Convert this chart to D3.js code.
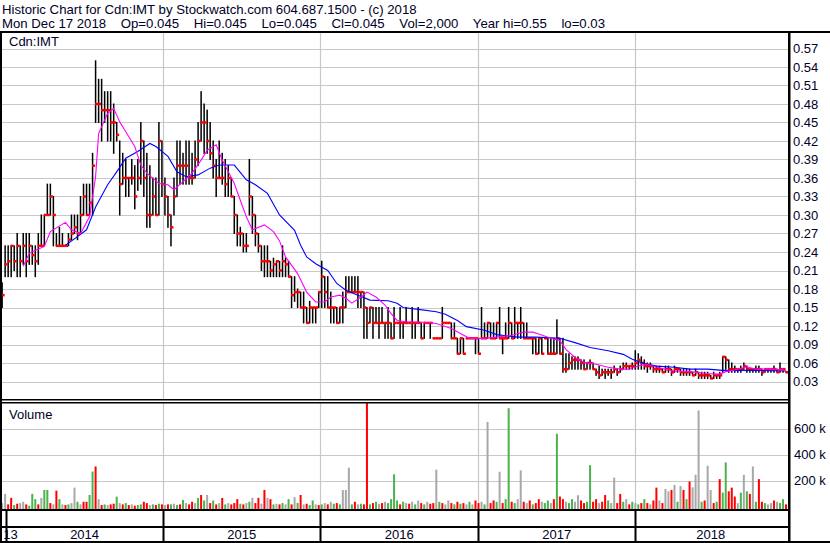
<!DOCTYPE html>
<html>
<head>
<meta charset="utf-8">
<script src="https://cdn.jsdelivr.net/npm/d3@7"></script>
<style>
body { margin: 0; background: #fff; }
svg { display: block; font-family: "Liberation Sans", Arial, sans-serif; }
</style>
</head>
<body>
<svg id="chart" width="830" height="543"></svg>
<script>
var title1 = "Historic Chart for Cdn:IMT by Stockwatch.com 604.687.1500 - (c) 2018";
var title2 = "Mon Dec 17 2018    Op=0.045    Hi=0.045    Lo=0.045    Cl=0.045    Vol=2,000    Year hi=0.55    lo=0.03";
var symbol = "Cdn:IMT";

var chartStart = new Date(2013, 11, 16);   // left edge of the data
var firstWeek = new Date(2013, 11, 23);    // first weekly bar
var years = [2013, 2014, 2015, 2016, 2017, 2018];
var priceTicks = [0.03, 0.06, 0.09, 0.12, 0.15, 0.18, 0.21, 0.24, 0.27, 0.30, 0.33, 0.36, 0.39, 0.42, 0.45, 0.48, 0.51, 0.54, 0.57];
var volTicks = [200, 400, 600];            // thousands
var volTickLabels = ["200 k", "400 k", "600 k"];

// weekly high / low / close
var highs = [
  .19,.25,.25,.25,.25,.27,.25,.27,.27,.27,
  .25,.25,.27,.30,.30,.35,.35,.33,.27,.28,
  .27,.25,.27,.30,.30,.30,.33,.35,.35,.35,
  .40,.55,.52,.52,.50,.50,.50,.48,.45,.42,
  .40,.39,.36,.39,.38,.39,.45,.42,.40,.38,
  .36,.36,.45,.42,.36,.33,.30,.36,.42,.42,
  .40,.42,.42,.40,.42,.45,.50,.48,.47,.45,
  .42,.39,.42,.40,.39,.38,.36,.33,.30,.28,
  .27,.27,.39,.33,.30,.27,.25,.25,.25,.225,
  .23,.225,.225,.25,.23,.225,.20,.20,.18,.175,
  .175,.15,.16,.15,.15,.175,.225,.20,.20,.175,
  .15,.15,.15,.175,.20,.20,.20,.20,.20,.175,
  .175,.15,.15,.15,.15,.15,.15,.125,.15,.125,
  .15,.125,.15,.125,.15,.125,.15,.125,.15,.125,
  .125,.125,.125,.10,.10,.10,.15,.125,.125,.125,
  .125,.10,.10,.10,.10,.10,.10,.10,.10,.15,
  .125,.125,.125,.125,.125,.15,.10,.125,.15,.125,
  .15,.125,.15,.125,.125,.10,.10,.10,.10,.10,
  .10,.10,.10,.10,.13,.10,.10,.075,.075,.07,
  .07,.07,.065,.065,.06,.065,.06,.05,.055,.05,
  .05,.05,.05,.055,.05,.055,.06,.06,.055,.06,
  .08,.075,.07,.065,.06,.06,.055,.055,.055,.05,
  .055,.055,.05,.055,.05,.05,.05,.05,.05,.045,
  .05,.045,.045,.045,.045,.04,.045,.04,.045,.07,
  .07,.065,.06,.055,.05,.055,.06,.055,.05,.05,
  .055,.055,.05,.05,.05,.05,.055,.05,.06,.05,
  .045
];
var lows = [
  .15,.20,.20,.20,.21,.20,.20,.22,.20,.22,
  .22,.20,.22,.25,.25,.30,.30,.25,.25,.25,
  .25,.25,.25,.26,.27,.26,.27,.30,.30,.30,
  .30,.45,.45,.42,.45,.42,.42,.40,.42,.30,
  .35,.33,.33,.35,.31,.34,.35,.33,.28,.28,
  .30,.30,.30,.33,.30,.28,.25,.30,.33,.35,
  .35,.35,.35,.35,.36,.38,.42,.40,.40,.39,
  .36,.33,.36,.35,.33,.33,.33,.27,.25,.25,
  .24,.24,.30,.27,.25,.24,.21,.20,.20,.20,
  .20,.20,.20,.20,.20,.20,.15,.16,.15,.15,
  .125,.125,.125,.125,.125,.15,.15,.15,.15,.125,
  .125,.125,.125,.125,.15,.175,.175,.175,.15,.15,
  .10,.10,.125,.10,.125,.10,.125,.10,.10,.10,
  .10,.125,.10,.10,.125,.125,.10,.10,.125,.10,
  .10,.125,.10,.10,.10,.10,.10,.125,.125,.10,
  .10,.075,.075,.075,.10,.10,.10,.075,.075,.10,
  .10,.10,.10,.10,.10,.10,.075,.10,.10,.10,
  .10,.10,.10,.10,.10,.10,.075,.075,.075,.075,
  .10,.075,.075,.075,.075,.075,.045,.045,.05,.05,
  .05,.05,.05,.05,.05,.05,.05,.04,.035,.04,
  .035,.04,.035,.045,.04,.045,.05,.05,.05,.05,
  .05,.05,.05,.05,.045,.05,.045,.045,.045,.045,
  .045,.045,.04,.045,.045,.04,.04,.04,.04,.04,
  .04,.035,.035,.035,.035,.035,.035,.035,.035,.045,
  .05,.045,.045,.045,.045,.045,.05,.045,.045,.045,
  .045,.045,.04,.045,.045,.045,.045,.045,.045,.045,
  .045
];
var closes = [
  .17,.22,.225,.25,.225,.25,.225,.25,.225,.25,
  .235,.225,.25,.25,.30,.30,.33,.30,.25,.25,
  .25,.25,.26,.27,.28,.27,.30,.33,.30,.32,
  .38,.48,.48,.47,.47,.47,.45,.45,.43,.35,
  .36,.36,.36,.36,.33,.36,.42,.36,.30,.30,
  .33,.30,.42,.35,.33,.30,.28,.33,.38,.38,
  .38,.38,.36,.36,.39,.42,.45,.45,.42,.40,
  .38,.36,.36,.36,.35,.36,.33,.30,.27,.27,
  .25,.25,.33,.30,.27,.25,.225,.225,.225,.21,
  .22,.225,.21,.225,.22,.20,.17,.175,.175,.15,
  .15,.125,.15,.15,.15,.175,.20,.175,.15,.15,
  .15,.125,.15,.15,.175,.175,.175,.175,.175,.175,
  .15,.125,.15,.125,.125,.125,.125,.125,.125,.10,
  .125,.125,.125,.125,.125,.125,.125,.125,.125,.10,
  .125,.125,.125,.10,.10,.10,.125,.125,.125,.10,
  .10,.075,.10,.075,.10,.10,.10,.10,.075,.10,
  .10,.125,.10,.10,.125,.10,.10,.10,.125,.10,
  .125,.125,.125,.10,.10,.10,.10,.075,.10,.075,
  .10,.075,.075,.075,.10,.075,.05,.05,.06,.065,
  .065,.065,.06,.05,.06,.06,.05,.045,.04,.045,
  .045,.045,.045,.05,.045,.05,.055,.055,.055,.055,
  .06,.065,.06,.055,.055,.055,.05,.05,.05,.045,
  .05,.05,.045,.05,.05,.045,.045,.045,.045,.04,
  .045,.04,.04,.04,.04,.035,.04,.04,.04,.07,
  .065,.05,.05,.05,.05,.05,.055,.05,.05,.05,
  .05,.05,.045,.05,.05,.05,.05,.045,.05,.05,
  .045
];

// weekly volume in thousands, and direction (u = up, d = down, n = unchanged)
var volumes = [
  30,100,20,70,15,25,30,40,20,10,
  100,60,20,70,130,130,30,20,125,60,
  20,15,20,30,148,40,20,40,40,92,
  271,310,60,15,20,15,20,25,79,30,
  20,30,15,20,10,15,20,40,30,15,
  20,15,25,20,15,20,20,25,15,20,
  54,30,20,40,30,69,92,50,92,30,
  50,20,30,69,20,30,20,30,60,25,
  20,30,40,70,30,70,25,130,70,60,
  20,25,20,30,20,60,20,75,30,92,
  20,25,15,50,20,15,20,30,20,40,
  25,30,20,130,130,300,20,40,20,25,
  20,900,20,30,40,25,30,40,30,60,
  250,50,20,40,30,25,40,20,50,30,
  20,40,25,30,285,40,30,20,50,30,
  20,40,25,30,20,40,20,50,30,40,
  20,650,30,50,40,270,30,60,755,40,
  30,60,280,40,30,50,20,30,60,40,
  30,50,30,60,560,80,60,40,30,60,
  40,90,50,30,40,320,40,60,30,40,
  92,50,30,225,30,100,40,60,20,40,
  30,20,30,60,30,20,50,148,50,30,
  138,120,130,169,40,160,130,60,195,150,
  246,738,40,50,315,130,30,40,213,110,
  341,120,148,80,30,110,246,120,100,310,
  40,213,40,30,20,30,50,40,30,60,
  20
];
var volDir = [
  "n","n","d","d","u","d","n","n","d","u",
  "u","u","d","n","u","u","d","n","d","u",
  "n","d","u","n","n","u","n","d","d","u",
  "u","d","n","d","u","n","d","d","u","n",
  "d","u","d","n","d","u","u","d","d","n",
  "u","d","u","d","n","d","u","n","u","d",
  "u","n","d","d","n","u","d","u","n","d",
  "u","d","n","d","u","n","d","d","d","u",
  "d","n","u","n","d","d","n","d","n","d",
  "u","n","d","u","n","u","d","n","u","d",
  "n","d","u","u","n","d","u","n","d","n",
  "u","d","u","n","n","n","u","d","n","u",
  "d","d","u","d","u","n","d","n","u","u",
  "u","u","d","u","n","d","n","u","n","d",
  "u","n","d","d","n","u","d","n","n","d",
  "u","d","u","d","n","u","n","d","d","n",
  "u","n","d","d","u","n","d","u","u","d",
  "u","n","n","d","n","d","u","d","d","n",
  "u","u","n","d","u","d","d","n","u","u",
  "n","n","d","d","u","u","d","d","n","d",
  "d","u","n","n","d","d","u","n","d","u",
  "n","u","d","u","d","n","d","d","n","d",
  "n","n","d","n","u","n","d","u","d","n",
  "n","n","u","d","n","n","d","u","d","u",
  "u","d","d","d","n","u","n","u","d","n",
  "u","d","d","u","n","n","d","n","u","u",
  "d"
];

// moving averages (week index, value)
var pinkWeeks = [7,9,14,16,21,23,26,29,31,32,35,37,39,41,44,46,48,52,55,57,60,63,66,68,71,73,77,79,81,83,87,90,92,94,98,101,104,107,109,112,114,116,119,121,124,127,129,131,134,140,144,149,152,155,160,164,169,173,176,178,182,185,187,190,193,197,201,205,208,211,214,217,223,228,234,238,240,244,247,250,256,260];
var pinkMA = [.217,.238,.249,.273,.288,.276,.270,.297,.362,.432,.465,.473,.451,.435,.411,.381,.368,.351,.349,.341,.354,.368,.389,.405,.414,.389,.351,.324,.297,.276,.284,.273,.258,.232,.205,.175,.159,.159,.167,.170,.165,.157,.167,.175,.167,.154,.140,.129,.127,.126,.124,.116,.108,.100,.100,.102,.105,.110,.110,.107,.100,.096,.082,.069,.061,.058,.053,.050,.050,.055,.058,.053,.047,.046,.043,.042,.046,.050,.054,.050,.050,.048];
var blueWeeks = [21,25,28,31,35,38,41,45,49,51,55,58,61,65,69,72,77,81,84,88,92,97,99,101,104,108,111,114,118,122,128,131,133,138,144,147,151,154,160,164,171,177,182,185,190,195,201,206,209,213,217,223,228,234,239,245,250,260];
var blueMA = [.251,.265,.276,.313,.349,.370,.392,.403,.416,.411,.395,.370,.362,.365,.376,.381,.381,.357,.349,.335,.300,.275,.251,.232,.221,.210,.189,.178,.170,.162,.161,.157,.150,.147,.143,.139,.129,.119,.113,.106,.102,.102,.101,.100,.093,.085,.080,.074,.066,.059,.055,.053,.050,.050,.048,.048,.048,.047];

var plotL = 2, plotR = 788;
var priceTop = 33, priceBot = 399;
var volTop = 403, volBot = 509;
var gridColor = "#c8c8c8";
var textColor = "#000028";
var upColor = "#4cb24c", downColor = "#ff0000", flatColor = "#a8a8a8";

var svg = d3.select("#chart");
svg.append("rect").attr("width", 830).attr("height", 543).attr("fill", "#fff");

var x = d3.scaleTime()
    .domain([new Date(2014, 0, 1), new Date(2019, 0, 1)])
    .range([6, 792.5]);
function weekX(i) { return x(d3.timeDay.offset(firstWeek, 7 * i)); }

var yP = d3.scaleLinear().domain([0.03, 0.57]).range([381.5, 48.5]);
var yV = d3.scaleLinear().domain([0, 600]).range([507, 428.5]);

// header; runs of spaces are kept with no-break spaces
function keepSpaces(s) { return s.replace(/  /g, "\u00a0 "); }
var head = svg.append("g").attr("fill", textColor).style("font-size", "13.2px");
head.append("text").attr("x", 2).attr("y", 14).text(keepSpaces(title1));
head.append("text").attr("x", 2).attr("y", 27.5).text(keepSpaces(title2));

// clip regions
var defs = svg.append("defs");
defs.append("clipPath").attr("id", "clipP").append("rect")
    .attr("x", plotL).attr("y", priceTop).attr("width", plotR - plotL).attr("height", priceBot - priceTop);
defs.append("clipPath").attr("id", "clipV").append("rect")
    .attr("x", plotL).attr("y", volTop).attr("width", plotR - plotL).attr("height", volBot - volTop);

var yearBounds = years.slice(1).map(function(y) { return new Date(y, 0, 1); });

// price gridlines
var gp = svg.append("g").attr("stroke", gridColor).attr("stroke-width", 1.2);
gp.selectAll("line.h").data(priceTicks).enter().append("line")
    .attr("x1", plotL).attr("x2", plotR)
    .attr("y1", function(d) { return Math.round(yP(d)) + 0.5; })
    .attr("y2", function(d) { return Math.round(yP(d)) + 0.5; });
gp.selectAll("line.v").data(yearBounds.slice(1)).enter().append("line")
    .attr("x1", function(d) { return Math.round(x(d)) + 0.5; })
    .attr("x2", function(d) { return Math.round(x(d)) + 0.5; })
    .attr("y1", priceTop).attr("y2", priceBot);

// volume gridlines
var gv = svg.append("g").attr("stroke", gridColor).attr("stroke-width", 1.2);
gv.selectAll("line.h").data(volTicks).enter().append("line")
    .attr("x1", plotL).attr("x2", plotR)
    .attr("y1", function(d) { return Math.round(yV(d)) + 0.5; })
    .attr("y2", function(d) { return Math.round(yV(d)) + 0.5; });
gv.selectAll("line.v").data(yearBounds.slice(1)).enter().append("line")
    .attr("x1", function(d) { return Math.round(x(d)) + 0.5; })
    .attr("x2", function(d) { return Math.round(x(d)) + 0.5; })
    .attr("y1", volTop).attr("y2", volBot);

// price bars: black high-low line, red close tick
var pg = svg.append("g").attr("clip-path", "url(#clipP)");
pg.selectAll("rect.hl").data(highs).enter().append("rect")
    .attr("x", function(d, i) { return weekX(i) - 0.75; })
    .attr("width", 1.5)
    .attr("y", function(d) { return yP(d) - 0.5; })
    .attr("height", function(d, i) { return Math.max(1, yP(lows[i]) - yP(d) + 1); })
    .attr("fill", "#000");
pg.selectAll("rect.cl").data(closes).enter().append("rect")
    .attr("x", function(d, i) { return weekX(i) - 0.5; })
    .attr("width", 3)
    .attr("y", function(d) { return yP(d) - 1.25; })
    .attr("height", 2.5)
    .attr("fill", downColor);

// moving averages
var maLine = d3.line()
    .x(function(d) { return weekX(d[0]); })
    .y(function(d) { return yP(d[1]); });
pg.append("path")
    .datum(blueWeeks.map(function(w, i) { return [w, blueMA[i]]; }))
    .attr("d", maLine).attr("fill", "none").attr("stroke", "#0000ff").attr("stroke-width", 1.1);
pg.append("path")
    .datum(pinkWeeks.map(function(w, i) { return [w, pinkMA[i]]; }))
    .attr("d", maLine).attr("fill", "none").attr("stroke", "#ff00ff").attr("stroke-width", 1.1);

// volume bars
var vg = svg.append("g").attr("clip-path", "url(#clipV)");
vg.selectAll("rect").data(volumes).enter().append("rect")
    .attr("x", function(d, i) { return weekX(i) - 1; })
    .attr("width", 2)
    .attr("y", function(d) { return yV(d); })
    .attr("height", function(d) { return volBot - yV(d); })
    .attr("fill", function(d, i) {
      return volDir[i] === "u" ? upColor : volDir[i] === "d" ? downColor : flatColor;
    });

// year labels, centred in the visible part of each year; a clipped first year shows its last two digits
var xs = x(chartStart), xe = weekX(highs.length - 1);
function span(y) {
  return [Math.max(xs, x(new Date(y, 0, 1))), Math.min(xe, x(new Date(y + 1, 0, 1)))];
}
var yl = svg.append("g").attr("fill", textColor).style("font-size", "13px").attr("text-anchor", "middle");
yl.selectAll("text").data(years).enter().append("text")
    .attr("x", function(y) { var s = span(y); return s[1] - s[0] < 30 ? 10.5 : (s[0] + s[1]) / 2; })
    .attr("y", 539)
    .text(function(y) { var s = span(y); return s[1] - s[0] < 30 ? String(y).slice(2) : y; });

// frame
var frame = svg.append("g").attr("fill", "#000");
frame.append("rect").attr("x", 0).attr("y", 31).attr("width", 830).attr("height", 2);
frame.append("rect").attr("x", 0).attr("y", 31).attr("width", 2).attr("height", 512);
frame.append("rect").attr("x", 788).attr("y", 31).attr("width", 2.5).attr("height", 512);
frame.append("rect").attr("x", 0).attr("y", 399).attr("width", 789).attr("height", 1.5);
frame.append("rect").attr("x", 0).attr("y", 402).attr("width", 789).attr("height", 1.5);
frame.append("rect").attr("x", 0).attr("y", 509).attr("width", 789).attr("height", 2);
frame.append("rect").attr("x", 0).attr("y", 526).attr("width", 789).attr("height", 2);
frame.append("rect").attr("x", 0).attr("y", 541).attr("width", 830).attr("height", 2);
frame.selectAll("rect.sep").data(yearBounds).enter().append("rect")
    .attr("x", function(d) { return Math.round(x(d)) - 0.5; })
    .attr("y", 511).attr("width", 2).attr("height", 30);

// price axis labels
var al = svg.append("g").attr("fill", textColor).style("font-size", "13px");
al.selectAll("text.p").data(priceTicks).enter().append("text")
    .attr("x", 793).attr("y", function(d) { return yP(d) + 4.5; })
    .text(function(d) { return d3.format(".2f")(d); });
al.selectAll("text.v").data(volTicks).enter().append("text")
    .attr("x", 794).attr("y", function(d) { return yV(d) + 4.5; })
    .text(function(d, i) { return volTickLabels[i]; });

svg.append("text").attr("x", 9).attr("y", 45.5).attr("fill", textColor).style("font-size", "13px").text(symbol);
svg.append("text").attr("x", 9).attr("y", 418.5).attr("fill", textColor).style("font-size", "13px").text("Volume");
</script>
</body>
</html>
